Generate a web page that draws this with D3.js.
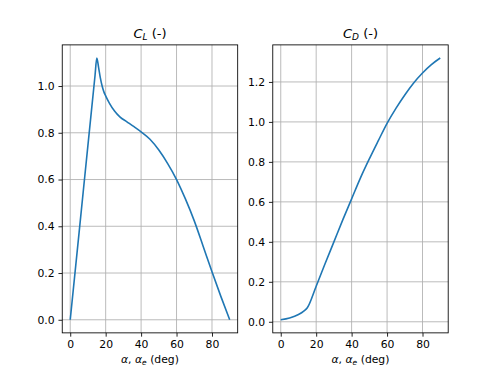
<!DOCTYPE html>
<html lang="en">
<head>
  <meta charset="utf-8">
  <script src="https://d3js.org/d3.v7.min.js"></script>
  <style>
    body { margin: 0; background: #fff; }
    text { font-family: "DejaVu Sans", sans-serif; fill: #000; }
  </style>
</head>
<body>
  <svg id="chart" width="498" height="374"></svg>
  <script>
    // angles of attack (deg)
    const alphaCL = [0, 5, 10, 14, 15, 16, 17, 18, 19, 20, 22, 25, 28, 32, 36, 40, 45, 50, 55, 60, 65, 70, 75, 80, 85, 90];
    const cl = [0, 0.373, 0.747, 1.045, 1.12, 1.08, 1.035, 1.0, 0.975, 0.958, 0.928, 0.893, 0.868, 0.847, 0.826, 0.804, 0.772, 0.726, 0.668, 0.6, 0.517, 0.423, 0.315, 0.205, 0.1, 0];

    const alphaCD = [0, 5, 10, 13, 15, 20, 25, 30, 35, 40, 45, 50, 55, 60, 65, 70, 75, 80, 85, 90];
    const cd = [0.01, 0.019, 0.036, 0.053, 0.07, 0.178, 0.29, 0.40, 0.51, 0.615, 0.72, 0.815, 0.905, 0.993, 1.068, 1.135, 1.195, 1.245, 1.287, 1.32];

    const xTicks = [0, 20, 40, 60, 80];
    const clTicks = [0, 0.2, 0.4, 0.6, 0.8, 1.0];
    const cdTicks = [0, 0.2, 0.4, 0.6, 0.8, 1.0, 1.2];

    const svg = d3.select("#chart");
    const W = 498, H = 374;
    const axLeft = 0.125 * W, axRight = 0.9 * W, axTop = H * 0.12, axBottom = H * 0.89;
    const axW = (axRight - axLeft) / 2.2;

    // matplotlib style 5% margins
    function padded(vals) {
      const lo = d3.min(vals), hi = d3.max(vals), m = (hi - lo) * 0.05;
      return [lo - m, hi + m];
    }

    function panel(x0, xs, ys, yTicks, sub) {
      const g = svg.append("g");
      const x = d3.scaleLinear().domain(padded(xs)).range([x0, x0 + axW]);
      const y = d3.scaleLinear().domain(padded(ys)).range([axBottom, axTop]);

      // grid
      g.selectAll(".gx").data(xTicks).enter().append("line")
        .attr("x1", d => x(d)).attr("x2", d => x(d))
        .attr("y1", axTop).attr("y2", axBottom)
        .attr("stroke", "#b0b0b0").attr("stroke-width", 0.86);
      g.selectAll(".gy").data(yTicks).enter().append("line")
        .attr("y1", d => y(d)).attr("y2", d => y(d))
        .attr("x1", x0).attr("x2", x0 + axW)
        .attr("stroke", "#b0b0b0").attr("stroke-width", 0.86);

      // axes
      const xa = g.append("g").attr("transform", "translate(0," + axBottom + ")")
        .call(d3.axisBottom(x).tickValues(xTicks).tickSize(3.8).tickPadding(3.8).tickFormat(d3.format("d")));
      const ya = g.append("g").attr("transform", "translate(" + x0 + ",0)")
        .call(d3.axisLeft(y).tickValues(yTicks).tickSize(3.8).tickPadding(3.8).tickFormat(d3.format(".1f")));
      [xa, ya].forEach(a => {
        a.select(".domain").remove();
        a.selectAll("line").attr("stroke", "#000").attr("stroke-width", 0.86);
        a.selectAll("text").attr("font-size", 10.8).attr("font-family", "DejaVu Sans").attr("fill", "#000");
      });

      // curve
      const line = d3.line().x((d, i) => x(xs[i])).y(d => y(d)).curve(d3.curveMonotoneX);
      g.append("path").datum(ys).attr("d", line)
        .attr("fill", "none").attr("stroke", "#1f77b4").attr("stroke-width", 1.6);

      // frame
      g.append("rect").attr("x", x0).attr("y", axTop).attr("width", axW).attr("height", axBottom - axTop)
        .attr("fill", "none").attr("stroke", "#000").attr("stroke-width", 0.86);

      // title
      const t = g.append("text").attr("x", x0 + axW / 2).attr("y", axTop - 7)
        .attr("text-anchor", "middle").attr("font-size", 13);
      t.append("tspan").attr("font-style", "italic").text("C");
      t.append("tspan").attr("font-style", "italic").attr("font-size", 9).attr("dy", 2.5).text(sub);
      t.append("tspan").attr("dy", -2.5).text(" (-)");

      // xlabel
      const xl = g.append("text").attr("x", x0 + axW / 2).attr("y", 363)
        .attr("text-anchor", "middle").attr("font-size", 10.8);
      xl.append("tspan").attr("font-style", "italic").text("α");
      xl.append("tspan").text(", ");
      xl.append("tspan").attr("font-style", "italic").text("α");
      xl.append("tspan").attr("font-style", "italic").attr("font-size", 7.5).attr("dy", 2).text("e");
      xl.append("tspan").attr("dy", -2).text(" (deg)");
    }

    panel(axLeft, alphaCL, cl, clTicks, "L");
    panel(axLeft + axW * 1.2, alphaCD, cd, cdTicks, "D");
  </script>
</body>
</html>
